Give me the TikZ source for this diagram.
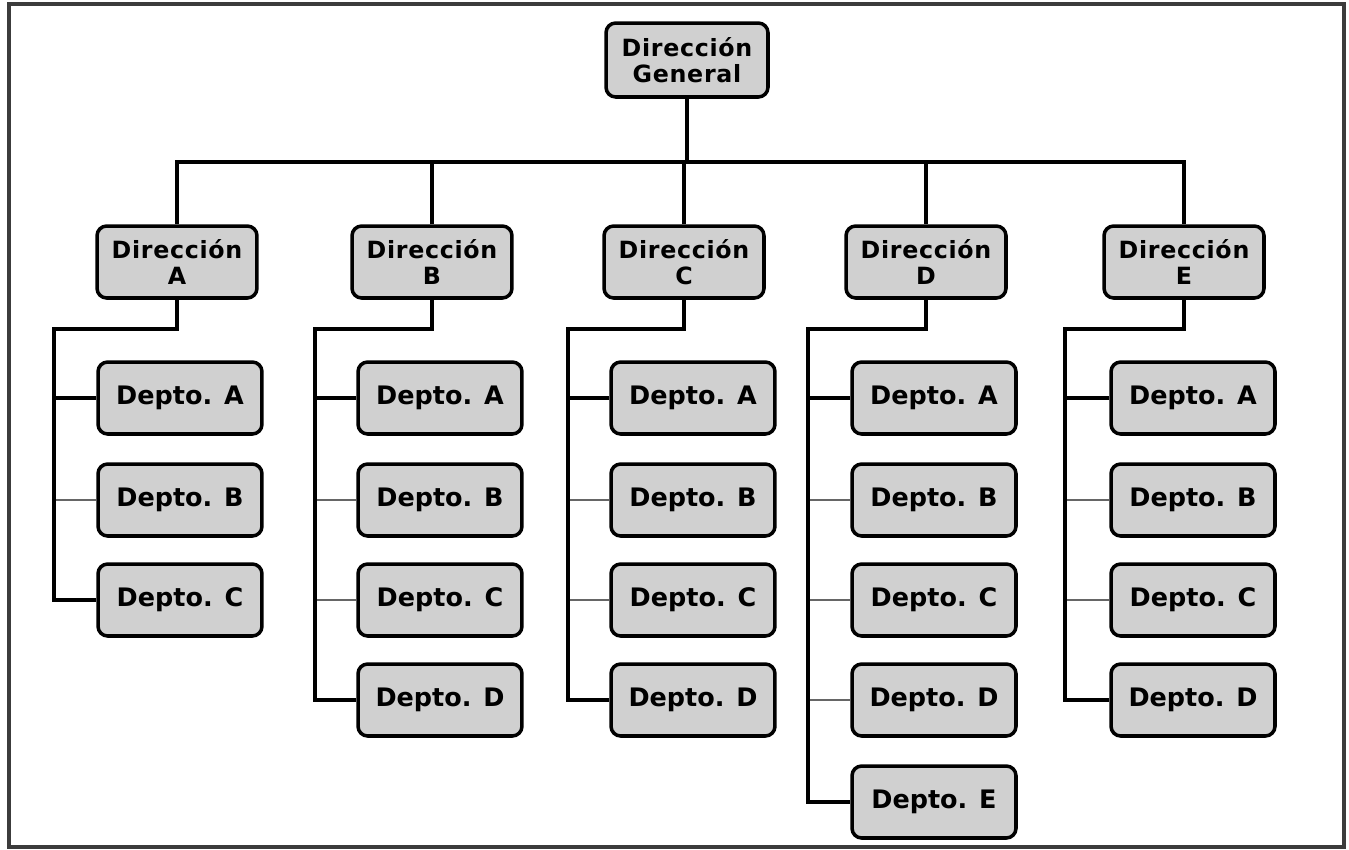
\documentclass[tikz,border=0pt]{standalone}
\usepackage{fontspec}
\setmainfont{DejaVu Sans}
\newfontfamily\dirfont[LetterSpace=3]{DejaVu Sans}
\usepackage{tikz}
\definecolor{boxgray}{RGB}{208,208,208}
\definecolor{framegray}{RGB}{60,60,60}

\begin{document}
\begin{tikzpicture}[x=0.02cm,y=-0.02cm,
  box/.style={draw,line width=2pt,rounded corners=5.5pt,fill=boxgray,align=center,inner sep=0pt},
  direc/.style={box,minimum width=3.2cm,minimum height=1.44cm,font=\dirfont\bfseries\fontsize{13.5}{14.5}\selectfont},
  depto/.style={box,minimum width=3.28cm,minimum height=1.44cm,font=\bfseries\fontsize{14.5}{16}\selectfont},
  link/.style={line width=1.8pt},
  branch/.style={line width=1.6pt,black!60}]
\useasboundingbox (0,0) rectangle (1349,849);
\draw[line width=2.2pt,framegray] (9,4) rectangle (1344,847);

\node[direc,minimum width=3.24cm,minimum height=1.48cm] (G) at (687,60) {Dirección\\General};
\coordinate (bus) at (687,162);

\node[direc] (DA) at (177,262) {Dirección\\A};
\node[direc] (DB) at (432,262) {Dirección\\B};
\node[direc] (DC) at (684,262) {Dirección\\C};
\node[direc] (DD) at (926,262) {Dirección\\D};
\node[direc] (DE) at (1184,262) {Dirección\\E};

\draw[link] (G.south) -- (bus);
\draw[link] (DA.north) |- (bus) -| (DE.north);
\draw[link] (DB.north) -- (DB.north |- bus);
\draw[link] (DC.north) -- (DC.north |- bus);
\draw[link] (DD.north) -- (DD.north |- bus);

% columna A
\coordinate (kA) at (54,329);
\node[depto] (A1) at (180,398) {Depto. A};
\node[depto] (A2) at (180,500) {Depto. B};
\node[depto] (A3) at (180,600) {Depto. C};
\draw[branch] (kA |- A2.west) -- (A2.west);
\draw[link] (DA.south) |- (kA) |- (A3.west);
\draw[link] (kA |- A1.west) -- (A1.west);

% columna B
\coordinate (kB) at (315,329);
\node[depto] (B1) at (440,398) {Depto. A};
\node[depto] (B2) at (440,500) {Depto. B};
\node[depto] (B3) at (440,600) {Depto. C};
\node[depto] (B4) at (440,700) {Depto. D};
\draw[branch] (kB |- B2.west) -- (B2.west);
\draw[branch] (kB |- B3.west) -- (B3.west);
\draw[link] (DB.south) |- (kB) |- (B4.west);
\draw[link] (kB |- B1.west) -- (B1.west);

% columna C
\coordinate (kC) at (568,329);
\node[depto] (C1) at (693,398) {Depto. A};
\node[depto] (C2) at (693,500) {Depto. B};
\node[depto] (C3) at (693,600) {Depto. C};
\node[depto] (C4) at (693,700) {Depto. D};
\draw[branch] (kC |- C2.west) -- (C2.west);
\draw[branch] (kC |- C3.west) -- (C3.west);
\draw[link] (DC.south) |- (kC) |- (C4.west);
\draw[link] (kC |- C1.west) -- (C1.west);

% columna D
\coordinate (kD) at (808,329);
\node[depto] (D1) at (934,398) {Depto. A};
\node[depto] (D2) at (934,500) {Depto. B};
\node[depto] (D3) at (934,600) {Depto. C};
\node[depto] (D4) at (934,700) {Depto. D};
\node[depto] (D5) at (934,802) {Depto. E};
\draw[branch] (kD |- D2.west) -- (D2.west);
\draw[branch] (kD |- D3.west) -- (D3.west);
\draw[branch] (kD |- D4.west) -- (D4.west);
\draw[link] (DD.south) |- (kD) |- (D5.west);
\draw[link] (kD |- D1.west) -- (D1.west);

% columna E
\coordinate (kE) at (1065,329);
\node[depto] (E1) at (1193,398) {Depto. A};
\node[depto] (E2) at (1193,500) {Depto. B};
\node[depto] (E3) at (1193,600) {Depto. C};
\node[depto] (E4) at (1193,700) {Depto. D};
\draw[branch] (kE |- E2.west) -- (E2.west);
\draw[branch] (kE |- E3.west) -- (E3.west);
\draw[link] (DE.south) |- (kE) |- (E4.west);
\draw[link] (kE |- E1.west) -- (E1.west);
\end{tikzpicture}
\end{document}
